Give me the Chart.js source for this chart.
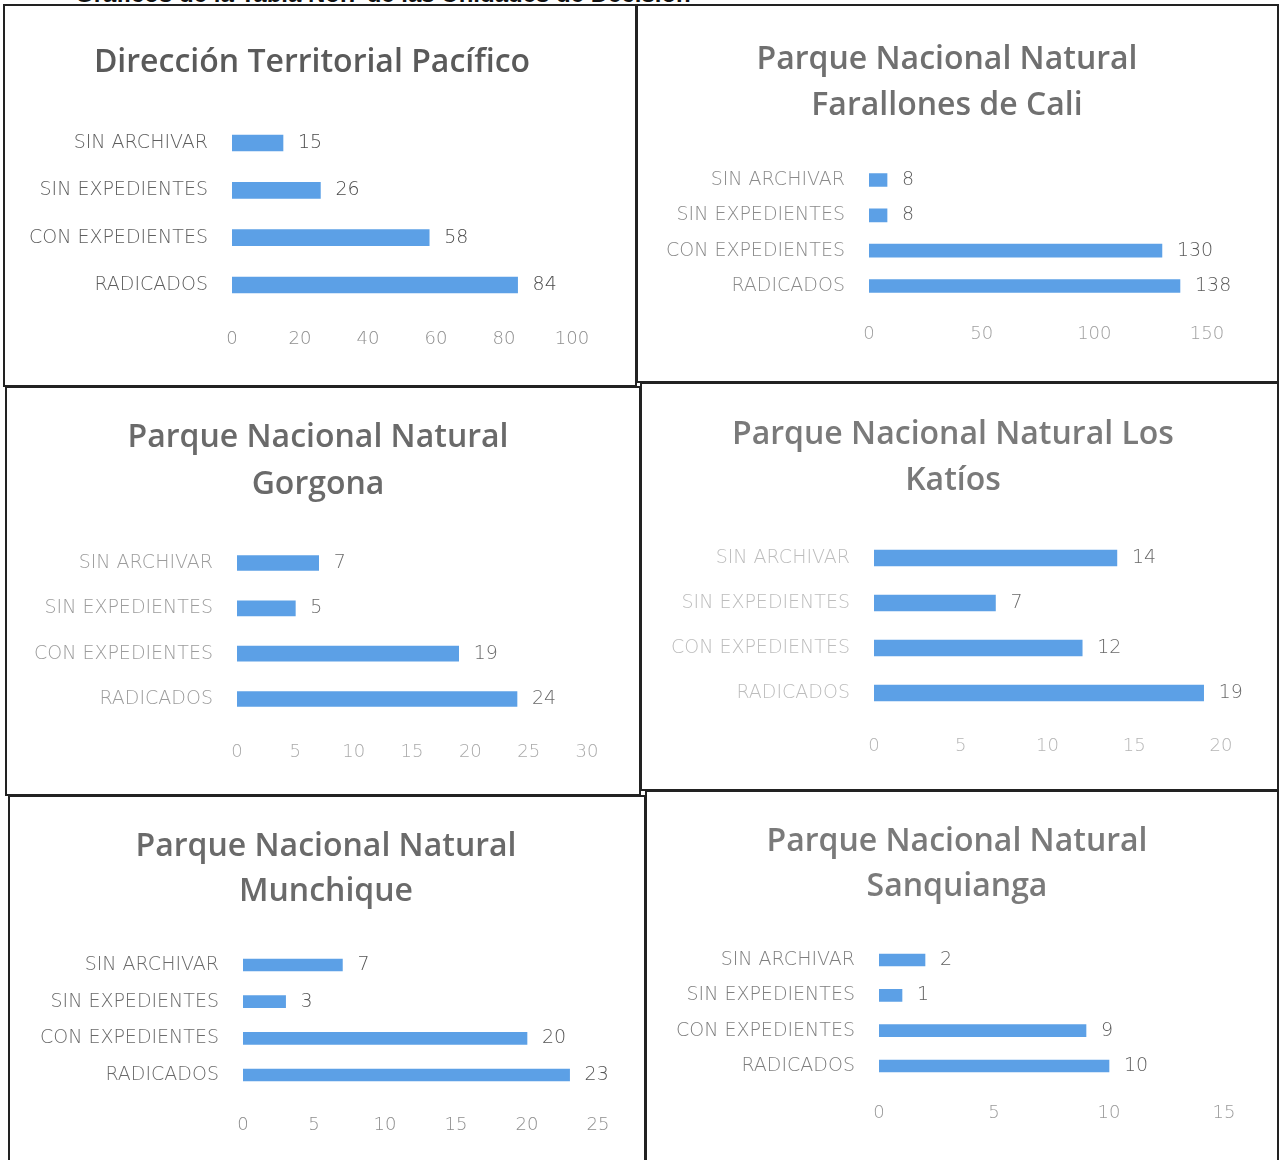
<!DOCTYPE html>
<html><head><meta charset="utf-8">
<script src="https://cdn.jsdelivr.net/npm/chart.js@4.4.1/dist/chart.umd.min.js"></script>
<style>
html,body{margin:0;padding:0;background:#fff;}
body{width:1281px;height:1160px;position:relative;overflow:hidden;font-family:'Open Sans',sans-serif;}
.hdr{position:absolute;left:75px;top:-20px;font:bold 24px 'Liberation Sans',Arial,sans-serif;color:#111;white-space:nowrap;width:640px;overflow:hidden;}
.cell{position:absolute;border:2px solid #222;box-sizing:border-box;}
.wrap{position:absolute;}
</style></head><body>
<div class="hdr">Gráficos de la Tabla No.7 de las Unidades de Decisión</div>
<div id="root"></div>
<script>
// ---- DATA ----
const categories = ['SIN ARCHIVAR', 'SIN EXPEDIENTES', 'CON EXPEDIENTES', 'RADICADOS'];
const chartTitles = [
  ['Dirección Territorial Pacífico'],
  ['Parque Nacional Natural', 'Farallones de Cali'],
  ['Parque Nacional Natural', 'Gorgona'],
  ['Parque Nacional Natural Los', 'Katíos'],
  ['Parque Nacional Natural', 'Munchique'],
  ['Parque Nacional Natural', 'Sanquianga']
];
const valuesPacifico   = [15, 26, 58, 84];
const valuesFarallones = [8, 8, 130, 138];
const valuesGorgona    = [7, 5, 19, 24];
const valuesKatios     = [14, 7, 12, 19];
const valuesMunchique  = [7, 3, 20, 23];
const valuesSanquianga = [2, 1, 9, 10];
const seriesValues = [valuesPacifico, valuesFarallones, valuesGorgona, valuesKatios, valuesMunchique, valuesSanquianga];
const axisMax  = [100, 150, 30, 20, 25, 15];
const axisStep = [20, 50, 5, 5, 5, 5];

// ---- LAYOUT / STYLE ----
const geom = [
  {x0:3,   y0:4,   x1:637,  y1:387,  cx:312, ty:63,  gap:46, L:232, R:572,  T:119.3, B:308.7,  tickY:339,  thick:16},
  {x0:636, y0:4,   x1:1279, y1:383,  cx:947, ty:60,  gap:46, L:869, R:1207, T:162.3, B:303.7,  tickY:334,  thick:13},
  {x0:5,   y0:386, x1:641,  y1:796,  cx:318, ty:438, gap:47, L:237, R:587,  T:540.3, B:721.7,  tickY:752,  thick:15},
  {x0:640, y0:382, x1:1279, y1:791,  cx:953, ty:435, gap:46, L:874, R:1221, T:535.5, B:715.5,  tickY:746,  thick:16},
  {x0:8,   y0:795, x1:646,  y1:1162, cx:326, ty:847, gap:45, L:243, R:598,  T:946.7, B:1093.3, tickY:1125, thick:12},
  {x0:645, y0:790, x1:1279, y1:1162, cx:957, ty:842, gap:45, L:879, R:1224, T:942.3, B:1083.7, tickY:1113, thick:12}
];
const titleColors = ['#5a5a5a', '#707070', '#6a6a6a', '#7a7a7a', '#6a6a6a', '#7a7a7a'];
const labelColors = ['#5e5e5e', '#8a8a8a', '#9c9c9c', '#bdbdbd', '#6a6a6a', '#7e7e7e'];
const tickColors  = ['#8e8e8e', '#a0a0a0', '#aaaaaa', '#b5b5b5', '#8e8e8e', '#9a9a9a'];
const valueColors = ['#4a4a4a', '#5a5a5a', '#6a6a6a', '#6a6a6a', '#555555', '#606060'];
const barColor = '#5CA0E6';
const LIGHT = '"DejaVu Sans", sans-serif';

const root = document.getElementById('root');
geom.forEach((g) => {
  const cell = document.createElement('div');
  cell.className = 'cell';
  cell.style.left = g.x0 + 'px'; cell.style.top = g.y0 + 'px';
  cell.style.width = (g.x1 - g.x0) + 'px'; cell.style.height = (g.y1 - g.y0) + 'px';
  root.appendChild(cell);
});
geom.forEach((g, k) => {
  const W = g.x1 - g.x0, H = g.y1 - g.y0;
  const wrap = document.createElement('div');
  wrap.className = 'wrap';
  wrap.style.left = g.x0 + 'px'; wrap.style.top = g.y0 + 'px';
  wrap.style.width = W + 'px'; wrap.style.height = H + 'px';
  const cv = document.createElement('canvas');
  cv.width = W; cv.height = H;
  cv.style.width = W + 'px'; cv.style.height = H + 'px';
  wrap.appendChild(cv);
  root.appendChild(wrap);

  const RRel = g.R - g.x0, LRel = g.L - g.x0;
  const pR = W - RRel;
  const padTop = g.T - g.y0;
  const xH = H - (g.B - g.y0);
  const xPad = g.tickY - g.B - 10;

  const titleAndValues = {
    id: 'titleAndValues' + k,
    afterDraw(chart) {
      const ctx = chart.ctx;
      ctx.save();
      ctx.font = '600 32px "Open Sans", sans-serif';
      ctx.fillStyle = titleColors[k];
      ctx.textAlign = 'center';
      ctx.textBaseline = 'middle';
      chartTitles[k].forEach((line, i) => {
        ctx.fillText(line, g.cx - g.x0, g.ty - g.y0 + i * g.gap);
      });
      ctx.restore();
    },
    afterDatasetsDraw(chart) {
      const ctx = chart.ctx;
      const meta = chart.getDatasetMeta(0);
      ctx.save();
      ctx.font = '300 19px ' + LIGHT;
      ctx.fillStyle = valueColors[k];
      ctx.textAlign = 'left';
      ctx.textBaseline = 'middle';
      meta.data.forEach((bar, i) => {
        ctx.fillText(String(chart.data.datasets[0].data[i]), bar.x + 15, bar.y);
      });
      ctx.restore();
    }
  };

  new Chart(cv, {
    type: 'bar',
    data: {
      labels: categories,
      datasets: [{
        data: seriesValues[k],
        backgroundColor: barColor,
        borderWidth: 0,
        barThickness: g.thick
      }]
    },
    options: {
      indexAxis: 'y',
      responsive: false,
      animation: false,
      layout: { padding: { left: 0, right: pR, top: padTop, bottom: 0 } },
      plugins: {
        legend: { display: false },
        tooltip: { enabled: false },
        title: { display: false }
      },
      scales: {
        x: {
          min: 0, max: axisMax[k],
          grid: { display: false, drawTicks: false },
          border: { display: false },
          ticks: { stepSize: axisStep[k], color: tickColors[k], padding: xPad,
                   font: { family: 'DejaVu Sans', size: 18, weight: '200' }, maxRotation: 0 },
          afterFit: (s) => { s.height = xH; }
        },
        y: {
          grid: { display: false, drawTicks: false },
          border: { display: false },
          ticks: { color: labelColors[k], padding: 24, font: { family: 'DejaVu Sans', size: 19, weight: '200' } },
          afterFit: (s) => { s.width = LRel; }
        }
      }
    },
    plugins: [titleAndValues]
  });
});
</script>
</body></html>
